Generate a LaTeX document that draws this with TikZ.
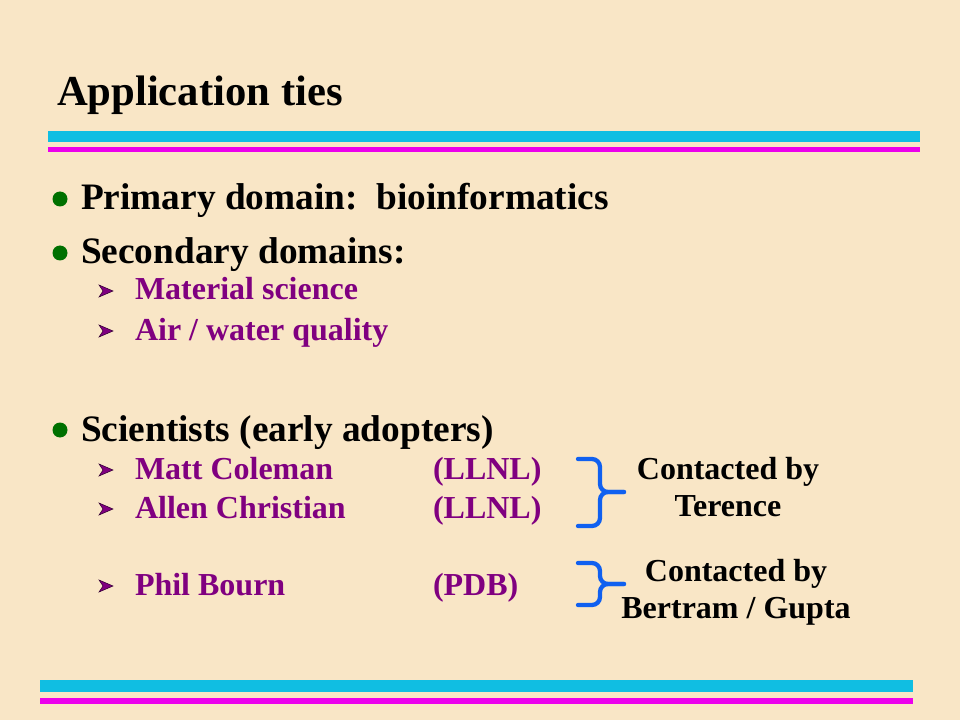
\documentclass[tikz,border=0pt]{standalone}
\usepackage{fontspec}
\setmainfont{Liberation Serif}
\definecolor{cf9e6c6}{RGB}{249,230,198}
\definecolor{c10bee0}{RGB}{16,190,226}
\definecolor{cf000f0}{RGB}{236,0,236}
\definecolor{c800080}{RGB}{128,0,128}
\definecolor{c007000}{RGB}{0,112,0}
\definecolor{c1060f0}{RGB}{16,96,240}

\begin{document}
\begin{tikzpicture}[y=0.75pt, x=0.75pt, yscale=-1, inner sep=0pt, outer sep=0pt]
  \path[fill=cf9e6c6] (0,0) rectangle (960,720);
  \useasboundingbox (0,0) rectangle (960,720);
  % rules
  \path[fill=c10bee0] (48,131) rectangle (920,142);
  \path[fill=cf000f0] (48,147) rectangle (920,152);
  \path[fill=c10bee0] (40,680) rectangle (913,692);
  \path[fill=cf000f0] (40,698) rectangle (913,704);
  % title
  \path (57,106) node[anchor=base west] (title)
    {\fontsize{32}{38}\selectfont\bfseries Application ties};
  % level one
  \path[fill=c007000] (60,199) circle (7.5);
  \path (81,210) node[anchor=base west] (primary)
    {\fontsize{28}{34}\selectfont\bfseries Primary domain:\ \ bioinformatics};
  \path[fill=c007000] (60,253) circle (7.5);
  \path (81,264) node[anchor=base west] (secondary)
    {\fontsize{28}{34}\selectfont\bfseries Secondary domains:};
  \path[fill=c007000] (60,430) circle (7.5);
  \path (81,441) node[anchor=base west] (scientists)
    {\fontsize{28}{34}\selectfont\bfseries Scientists (early adopters)};
  % level two
  \foreach \yy/\name/\txt in {300/material/{Material science},
      340/air/{Air / water quality}, 479/matt/{Matt Coleman},
      518/allen/{Allen Christian}, 595/phil/{Phil Bourn}}
  {
    \path[fill=c800080,draw=black!60!c800080,line width=0.4pt]
      (113,\yy-9) -- (99,\yy-15) -- (103,\yy-9) -- (99,\yy-3) -- cycle;
    \path (135,\yy) node[anchor=base west,text=c800080] (\name)
      {\fontsize{24}{28}\selectfont\bfseries \txt};
  }
  \path (433,479) node[anchor=base west,text=c800080] (lab1)
    {\fontsize{24}{28}\selectfont\bfseries (LLNL)};
  \path (433,518) node[anchor=base west,text=c800080] (lab2)
    {\fontsize{24}{28}\selectfont\bfseries (LLNL)};
  \path (433,595) node[anchor=base west,text=c800080] (lab3)
    {\fontsize{24}{28}\selectfont\bfseries (PDB)};
  % braces
  \draw[c1060f0,line width=3.2pt,rounded corners=6pt,line cap=round]
    (578,459) -- (600,459) -- (600,492) -- (624,492);
  \draw[c1060f0,line width=3.2pt,rounded corners=6pt,line cap=round]
    (624,492) -- (600,492) -- (600,526) -- (578,526);
  \draw[c1060f0,line width=3.2pt,rounded corners=6pt,line cap=round]
    (578,563) -- (600,563) -- (600,584) -- (624,584);
  \draw[c1060f0,line width=3.2pt,rounded corners=6pt,line cap=round]
    (624,584) -- (600,584) -- (600,605) -- (578,605);
  \path (728,516) node[anchor=base,align=center,
    font=\fontsize{24}{27.75}\selectfont\bfseries] (terence)
    {Contacted by\\Terence};
  \path (736,618) node[anchor=base,align=center,
    font=\fontsize{24}{27.75}\selectfont\bfseries] (bertram)
    {Contacted by\\Bertram / Gupta};
\end{tikzpicture}
\end{document}
